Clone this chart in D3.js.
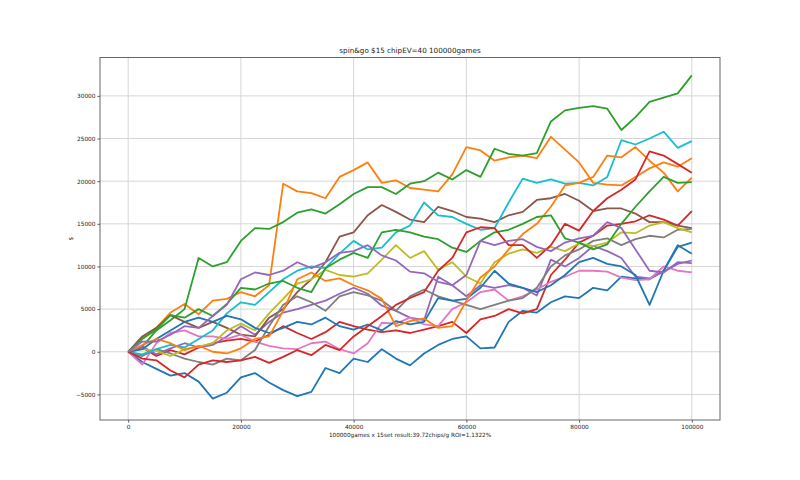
<!DOCTYPE html>
<html><head><meta charset="utf-8">
<script src="https://cdn.jsdelivr.net/npm/d3@7"></script>
<style>body{margin:0;background:#fff}svg{display:block}text{font-family:"DejaVu Sans",sans-serif;fill:#222}</style>
</head><body><div id="chart"></div>
<script>
const titleText = "spin&go $15 chipEV=40 100000games";
const xLabelText = "100000games x 15set result:39.72chips/g ROI=1.1322%";
const yLabelText = "$";
const xTicks = [0, 20000, 40000, 60000, 80000, 100000];
const yTicks = [-5000, 0, 5000, 10000, 15000, 20000, 25000, 30000];
const games = [0,2500,5000,7500,10000,12500,15000,17500,20000,22500,25000,27500,30000,32500,35000,37500,40000,42500,45000,47500,50000,52500,55000,57500,60000,62500,65000,67500,70000,72500,75000,77500,80000,82500,85000,87500,90000,92500,95000,97500,100000];
const colors = ["#1f77b4","#ff7f0e","#2ca02c","#d62728","#9467bd","#8c564b","#e377c2","#7f7f7f","#bcbd22","#17becf"];

const set01 = [0,-1200,-2000,-2800,-2500,-3500,-5500,-4800,-3000,-2500,-3600,-4500,-5200,-4700,-1900,-2500,-800,-1200,300,-800,-1600,-200,800,1500,1800,400,500,3500,4800,4600,5800,6500,6300,7500,7200,8800,8600,8500,9500,12500,11500];
const set02 = [0,1700,2800,4600,5600,4400,6000,6200,7000,6500,7800,19700,18800,18600,18000,20500,21300,22200,19800,20100,19200,19000,18800,20800,24000,23600,22400,22800,23000,22700,25200,23700,22200,19800,19600,19500,20500,21500,22200,21700,22700];
const set03 = [0,600,2500,3700,5000,11000,10000,10500,13000,14500,14400,15200,16300,16700,16200,17300,18500,19300,19300,18500,19700,20000,21000,20200,21300,20500,23800,23200,23000,23300,27000,28300,28600,28800,28500,26000,27500,29300,29800,30300,32400];
const set04 = [0,500,-500,200,-300,500,1000,1300,1500,1200,2000,3000,2200,1500,2300,3500,3000,2600,2300,2500,2200,2600,3000,3500,2200,3800,4200,5000,4500,5000,9000,10800,12800,13600,14800,15000,15300,16000,15500,14800,16500];
const set05 = [0,600,-300,400,1000,500,800,1800,3000,2000,3500,4600,5000,5500,6000,6800,7500,6800,5400,4800,4000,3700,8800,7800,6500,7800,7500,7800,7500,6600,10800,10000,11000,12400,11800,11000,8800,8600,9400,10300,10700];
const set06 = [0,1800,2800,4300,3500,2800,3500,2800,2000,1800,4000,5000,7000,8500,10500,13500,14000,16000,17200,16400,15500,15200,17000,16500,15800,15600,15200,16000,16400,17800,18000,18500,17700,16500,16800,16800,16200,15200,15200,14800,14500];
const set07 = [0,-1500,1000,2200,2500,1800,1800,1500,2000,1200,700,400,300,1000,1200,300,-200,1000,3400,3300,4000,3200,3000,5000,5800,7000,7300,6000,6500,7300,8200,8800,9500,9500,9400,8700,8400,8500,10000,9500,9300];
const set08 = [0,-500,300,-200,-800,-1200,-1500,-800,-1000,200,3000,5500,6500,5800,4800,6500,7000,6600,6000,4800,6500,7300,6500,6000,5500,5000,5500,6000,6300,7500,10000,11300,12000,13000,13300,12500,13200,13600,13400,14300,14400];
const set09 = [0,300,100,-500,300,600,1000,2500,3300,2500,4500,6200,8000,8500,9600,9000,8800,9200,10800,12500,11000,11800,9600,10500,8800,8000,10500,11500,12000,11600,12300,11800,12700,12400,12800,14000,13900,14800,15200,14500,14000];
const set10 = [0,-300,300,800,500,1500,2500,4500,5800,5500,7000,8500,9500,10000,9800,11500,13000,12000,12200,14000,14800,17500,16000,15800,15000,14300,14500,17500,20300,19800,20200,19700,19800,19500,20500,24800,24300,25000,25800,23900,24700];
const set11 = [0,300,1500,2500,3500,4000,3500,4200,3800,2800,2200,2800,3500,3200,4000,3000,2600,3200,2500,3600,3200,3500,6300,6000,6200,7500,9500,8000,7500,7000,7800,9000,10500,11000,10300,10000,9000,5500,9500,12300,12800];
const set12 = [0,800,1500,1000,200,700,0,-200,400,1500,1800,4800,8500,9300,8300,8600,7800,7200,6200,3000,3600,3900,2800,3000,6000,8700,10000,12000,13800,15000,17000,19500,19800,20500,23000,22800,24000,22400,21000,18800,20400];
const set13 = [0,1500,2600,4300,4000,5000,4200,5600,7500,7300,8000,8300,7500,7000,9800,10800,11600,11000,14000,14300,14000,13500,13200,12200,11700,13000,14000,14300,15000,15800,16000,13300,12800,12000,12600,15000,17000,18800,20500,19800,19900];
const set14 = [0,-800,-1000,-2200,-3000,-1500,-1000,-1200,-1000,-600,-1300,-600,200,-400,800,200,1800,3000,4200,5500,6300,7000,9500,11000,14000,14600,14500,12500,12500,11000,12500,15000,14200,16500,18000,19000,20200,23500,23000,22000,21000];
const set15 = [0,1200,1200,2000,3000,2800,4200,5500,8500,9300,9000,9500,10500,9800,10500,11600,11800,12500,11300,10700,9400,9200,8200,7800,9000,13000,12500,13000,13200,12300,11800,12800,13300,13600,15200,14500,12000,9500,9300,10500,10400];

const seriesList = [set01,set02,set03,set04,set05,set06,set07,set08,set09,set10,set11,set12,set13,set14,set15];

const W = 800, H = 480;
const m = {left: 100, right: 80, top: 57.5, bottom: 60};
const svg = d3.select("#chart").append("svg").attr("width", W).attr("height", H);
const x = d3.scaleLinear().domain([-5000, 105000]).range([m.left, W - m.right]);
const y = d3.scaleLinear().domain([-8000, 34500]).range([H - m.bottom, m.top]);

// grid
const g = svg.append("g");
g.selectAll("line.gx").data(xTicks).join("line")
  .attr("x1", d => x(d)).attr("x2", d => x(d))
  .attr("y1", m.top).attr("y2", H - m.bottom)
  .attr("stroke", "#d6d6d6").attr("stroke-width", 1);
g.selectAll("line.gy").data(yTicks).join("line")
  .attr("y1", d => y(d)).attr("y2", d => y(d))
  .attr("x1", m.left).attr("x2", W - m.right)
  .attr("stroke", "#d6d6d6").attr("stroke-width", 1);

// lines
const line = d3.line().x((d, i) => x(games[i])).y(d => y(d));
svg.append("g").selectAll("path").data(seriesList).join("path")
  .attr("d", line)
  .attr("fill", "none")
  .attr("stroke", (d, i) => colors[i % 10])
  .attr("stroke-width", 1.8)
  .attr("stroke-linejoin", "round");

// axes
const fmt = d => (d < 0 ? "\u2212" + Math.abs(d) : String(d));
const xAxis = svg.append("g").attr("transform", `translate(0,${H - m.bottom})`)
  .call(d3.axisBottom(x).tickValues(xTicks).tickFormat(fmt).tickSizeOuter(0).tickSize(2.5).tickPadding(2));
const yAxis = svg.append("g").attr("transform", `translate(${m.left},0)`)
  .call(d3.axisLeft(y).tickValues(yTicks).tickFormat(fmt).tickSizeOuter(0).tickSize(2.5).tickPadding(2));
[xAxis, yAxis].forEach(a => {
  a.select(".domain").remove();
  a.selectAll("line").attr("stroke", "#555");
  a.selectAll("text").attr("font-size", 5.8).attr("fill", "#222").attr("font-family", "DejaVu Sans, sans-serif");
});

// frame
svg.append("rect").attr("x", m.left).attr("y", m.top)
  .attr("width", W - m.right - m.left).attr("height", H - m.bottom - m.top)
  .attr("fill", "none").attr("stroke", "#666").attr("stroke-width", 1);

svg.append("text").attr("x", (m.left + W - m.right) / 2).attr("y", 53)
  .attr("text-anchor", "middle").attr("font-size", 7.2).text(titleText);
svg.append("text").attr("x", (m.left + W - m.right) / 2).attr("y", 436.5)
  .attr("text-anchor", "middle").attr("font-size", 5.7).text(xLabelText);
svg.append("text").attr("transform", `translate(73,${(m.top + H - m.bottom) / 2}) rotate(-90)`)
  .attr("text-anchor", "middle").attr("font-size", 5.8).text(yLabelText);
</script></body></html>
